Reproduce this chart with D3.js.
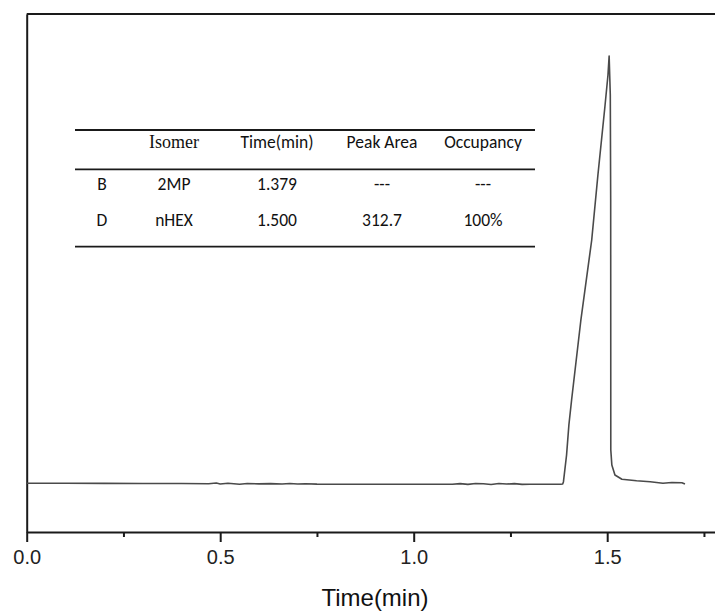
<!DOCTYPE html>
<html>
<head>
<meta charset="utf-8">
<script src="https://cdn.jsdelivr.net/npm/d3@7"></script>
<style>
  html, body { margin: 0; padding: 0; background: #fff; }
  svg { display: block; }
</style>
</head>
<body>
<svg id="chart" width="715" height="613"></svg>
<script>
// ---- data ----
const time = [
  0.000, 0.100, 0.200, 0.300, 0.400, 0.470, 0.490, 0.500, 0.520, 0.550,
  0.570, 0.600, 0.630, 0.660, 0.680, 0.700, 0.720, 0.750, 0.850, 0.950,
  1.050, 1.100, 1.120, 1.140, 1.160, 1.180, 1.200, 1.220, 1.240, 1.260,
  1.280, 1.300, 1.340, 1.380, 1.385, 1.387, 1.395, 1.401, 1.408, 1.432,
  1.460, 1.476, 1.494, 1.502, 1.505, 1.508, 1.509, 1.5093, 1.512, 1.520,
  1.538, 1.576, 1.611, 1.644, 1.667, 1.693, 1.701
];
const signal = [
  10.34, 10.34, 10.32, 10.30, 10.30, 10.26, 10.40, 10.20, 10.35, 10.15,
  10.30, 10.22, 10.28, 10.18, 10.30, 10.20, 10.24, 10.16, 10.15, 10.14,
  10.13, 10.13, 10.28, 10.12, 10.30, 10.25, 10.10, 10.30, 10.18, 10.28,
  10.12, 10.13, 10.13, 10.13, 10.19, 10.68, 16.35, 22.72, 28.03, 45.02,
  62.01, 75.81, 90.25, 97.05, 101.08, 92.80, 70.50, 17.41, 14.23, 12.10,
  11.19, 10.89, 10.68, 10.34, 10.51, 10.47, 10.19
];
const majorTicks = [0.0, 0.5, 1.0, 1.5];
const minorTicks = [0.25, 0.75, 1.25, 1.75];
const xTitle = "Time(min)";

const tableHeader = ["", "Isomer", "Time(min)", "Peak Area", "Occupancy"];
const tableRow1 = ["B", "2MP", "1.379", "---", "---"];
const tableRow2 = ["D", "nHEX", "1.500", "312.7", "100%"];

// ---- layout ----
const svg = d3.select("#chart");
const mLeft = 26.7, mTop = 14, mBottom = 532;
const x = d3.scaleLinear().domain([0, 1.8]).range([mLeft, mLeft + 387 * 1.8]);
const y = d3.scaleLinear().domain([0, 110]).range([mBottom, mTop]);

// frame: top line
svg.append("line")
  .attr("x1", mLeft).attr("x2", 720).attr("y1", mTop).attr("y2", mTop)
  .attr("stroke", "#1a1a1a").attr("stroke-width", 2);

// left axis line
const yAxis = d3.axisLeft(y).tickValues([]).tickSizeOuter(0);
svg.append("g").attr("transform", `translate(${mLeft},0)`).call(yAxis)
  .call(g => g.select(".domain").attr("stroke", "#1a1a1a").attr("stroke-width", 2));

// bottom axis: minor ticks
svg.append("g").attr("transform", `translate(0,${mBottom})`)
  .call(d3.axisBottom(x).tickValues(minorTicks).tickSize(5).tickSizeOuter(0).tickFormat(""))
  .call(g => g.select(".domain").attr("stroke", "#1a1a1a").attr("stroke-width", 2))
  .call(g => g.selectAll(".tick line").attr("stroke", "#1a1a1a").attr("stroke-width", 2));

// bottom axis: major ticks + labels
svg.append("g").attr("transform", `translate(0,${mBottom})`)
  .call(d3.axisBottom(x).tickValues(majorTicks).tickSize(10).tickPadding(8).tickSizeOuter(0).tickFormat(d3.format(".1f")))
  .call(g => g.select(".domain").remove())
  .call(g => g.selectAll(".tick line").attr("stroke", "#1a1a1a").attr("stroke-width", 2))
  .call(g => g.selectAll(".tick text")
    .attr("font-family", "'Liberation Sans', Arial, sans-serif")
    .attr("font-size", 20).attr("fill", "#222"));

// x title
svg.append("text")
  .attr("x", 375).attr("y", 606)
  .attr("text-anchor", "middle")
  .attr("font-family", "'Liberation Sans', Arial, sans-serif")
  .attr("font-size", 24).attr("fill", "#111")
  .text(xTitle);

// signal line
const pts = time.map((t, i) => [t, signal[i]]);
const line = d3.line().x(d => x(d[0])).y(d => y(d[1]));
svg.append("path").datum(pts)
  .attr("d", line)
  .attr("fill", "none")
  .attr("stroke", "#4a4a4a")
  .attr("stroke-width", 1.6)
  .attr("stroke-linejoin", "round");

// ---- inset table ----
const colX = [102, 174, 277, 382, 483];
const tbl = svg.append("g");
[130, 169.3, 246.7].forEach(yy => {
  tbl.append("line").attr("x1", 75).attr("x2", 535).attr("y1", yy).attr("y2", yy)
    .attr("stroke", "#1a1a1a").attr("stroke-width", 1.8);
});
const sans = "Calibri, Carlito, Lato, 'Liberation Sans', sans-serif";
tableHeader.forEach((h, i) => {
  tbl.append("text")
    .attr("x", colX[i]).attr("y", 148)
    .attr("text-anchor", "middle")
    .attr("font-family", i === 1 ? "'Liberation Serif', 'Times New Roman', serif" : sans)
    .attr("font-size", i === 1 ? 18 : 17.5)
    .attr("fill", "#111")
    .text(h);
});
[tableRow1, tableRow2].forEach((row, r) => {
  row.forEach((v, i) => {
    tbl.append("text")
      .attr("x", colX[i]).attr("y", r === 0 ? 189.5 : 226)
      .attr("text-anchor", "middle")
      .attr("font-family", sans)
      .attr("font-size", 17.5)
      .attr("fill", "#111")
      .text(v);
  });
});
</script>
</body>
</html>
